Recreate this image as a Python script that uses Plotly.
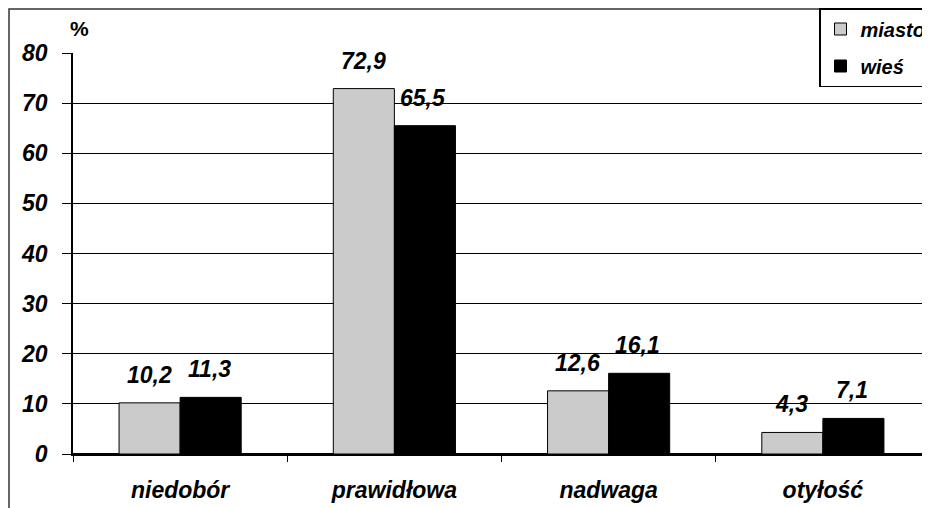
import plotly.graph_objects as go

categories = ["niedobór", "prawidłowa", "nadwaga", "otyłość"]
series_names = ["miasto", "wieś"]
miasto = [10.2, 72.9, 12.6, 4.3]
wies = [11.3, 65.5, 16.1, 7.1]
y_ticks = [0, 10, 20, 30, 40, 50, 60, 70, 80]

FONT = "Liberation Sans, Arial, sans-serif"
colors = ["#cbcbcb", "#000000"]

# figure-pixel geometry (page has an 8px body offset)
L, R, T, B = 65, 8, 45, 62
W, H = 930, 508
plot_w = W - L - R
plot_h = H - T - B

fig = go.Figure()
for i, (name, vals) in enumerate(zip(series_names, [miasto, wies])):
    fig.add_trace(go.Bar(
        x=categories, y=vals, name=f"<b><i>{name}</i></b>",
        marker=dict(color=colors[i], line=dict(color="black", width=1)),
        offsetgroup=str(i), legendgroup=str(i),
    ))

def fmt(v):
    return f"{v:.1f}".replace(".", ",")

annotations = []
for i, vals in enumerate([miasto, wies]):
    for j, v in enumerate(vals):
        annotations.append(dict(
            x=categories[j], y=v, xref="x", yref="y",
            text=f"<b><i>{fmt(v)}</i></b>", showarrow=False,
            xanchor="center", yanchor="bottom", yshift=13,
            xshift=(-31 if i == 0 else 29),
            font=dict(family=FONT, size=23, color="black"),
        ))
annotations.append(dict(
    x=(60 - L) / plot_w, y=(H - B - 34) / plot_h, xref="paper", yref="paper",
    text="<b>%</b>", showarrow=False, xanchor="left", yanchor="bottom",
    font=dict(family=FONT, size=21, color="black"),
))

shapes = [dict(
    type="rect", xref="paper", yref="paper",
    x0=(1 - L) / plot_w, x1=1.2, y0=-0.3, y1=(H - B - 1) / plot_h,
    line=dict(color="#333333", width=1.5), fillcolor="rgba(0,0,0,0)", layer="below",
)]

fig.update_layout(
    width=W, height=H,
    margin=dict(l=L, r=R, t=T, b=B, autoexpand=False),
    paper_bgcolor="white", plot_bgcolor="white",
    barmode="group", bargap=0.43, bargroupgap=0,
    font=dict(family=FONT, color="black"),
    annotations=annotations, shapes=shapes,
    showlegend=True,
    legend=dict(
        xref="container", yref="container",
        x=811 / W, y=1.0, xanchor="left", yanchor="top",
        bgcolor="white", bordercolor="black", borderwidth=1.5,
        font=dict(family=FONT, size=20, color="black"),
        tracegroupgap=8, traceorder="grouped",
        itemwidth=30,
    ),
)

fig.update_xaxes(
    type="category", range=[-0.5, 3.5],
    showline=True, linecolor="black", linewidth=1.5,
    ticks="outside", tickson="boundaries", ticklen=6, tickcolor="black",
    tickfont=dict(family=FONT, size=23, color="black"),
    tickvals=categories, ticktext=[f"<b><i>{c}</i></b>" for c in categories],
    ticklabelstandoff=15,
    showgrid=False,
)
fig.update_yaxes(
    range=[0, 80], tickvals=y_ticks, ticktext=[f"<b><i>{t}</i></b>" for t in y_ticks],
    showgrid=True, gridcolor="black", gridwidth=1.2,
    showline=True, linecolor="black", linewidth=1.5,
    ticks="outside", ticklen=9, tickcolor="black",
    tickfont=dict(family=FONT, size=23, color="black"),
    ticklabelstandoff=10,
    zeroline=True, zerolinecolor="black", zerolinewidth=1.5,
)

fig.write_html("out.html")
